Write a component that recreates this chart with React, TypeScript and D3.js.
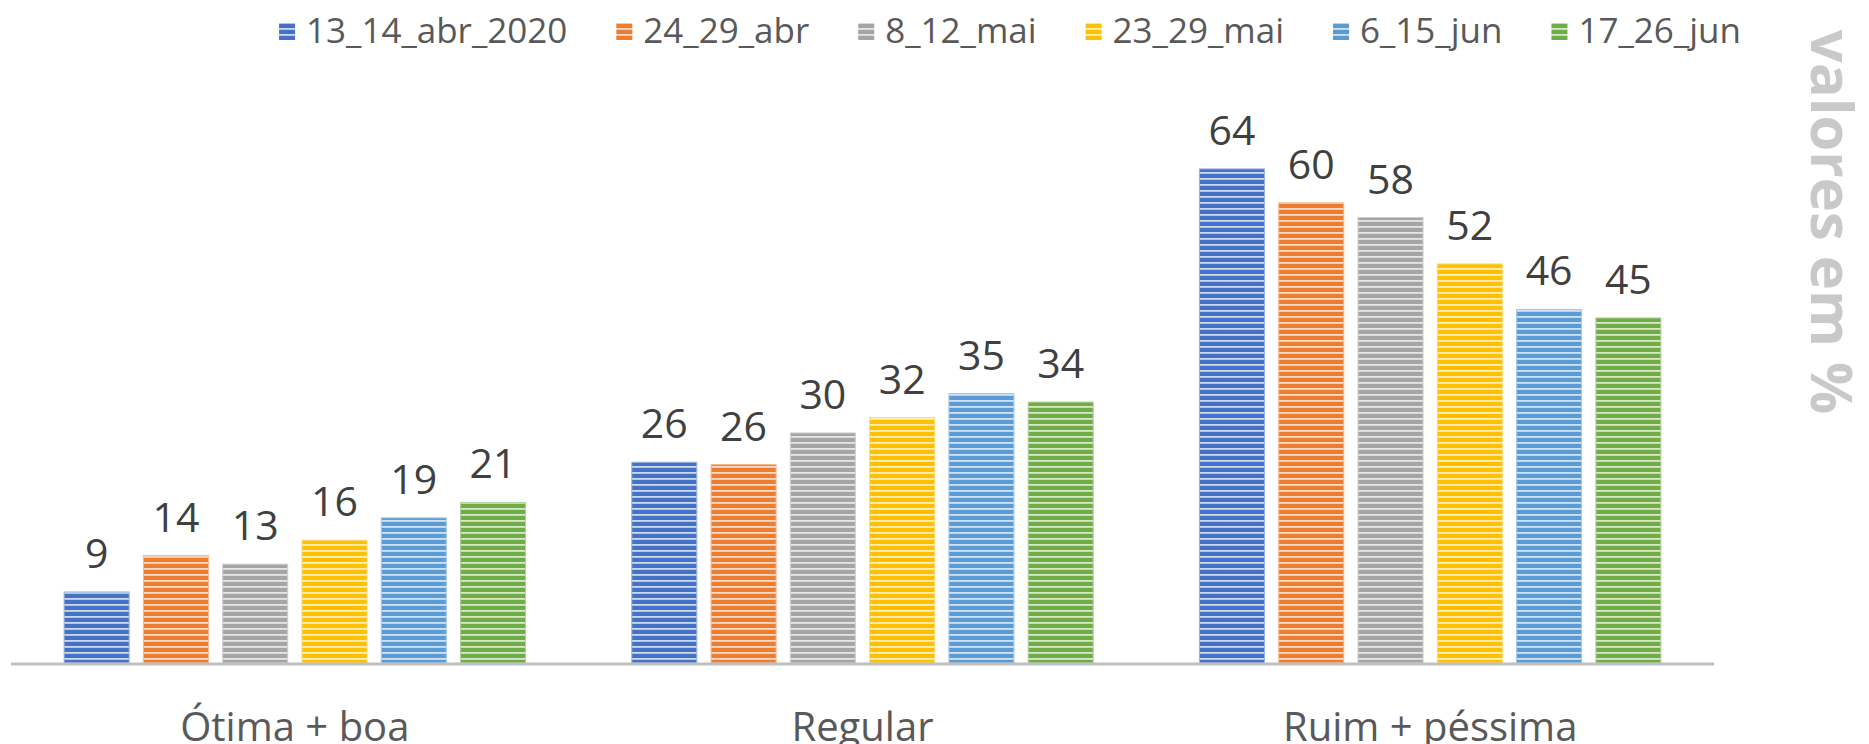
import * as d3 from "d3"
import React, { useEffect, useRef } from "react"

const categories = ["Ótima + boa", "Regular", "Ruim + péssima"]
const seriesNames = ["13_14_abr_2020", "24_29_abr", "8_12_mai", "23_29_mai", "6_15_jun", "17_26_jun"]
const seriesColors = ["#4472c4", "#ed7d31", "#a5a5a5", "#ffc000", "#5b9bd5", "#70ad47"]
// values per category, one per series
const otimaBoa = [9.2, 13.9, 12.8, 15.9, 18.8, 20.8]
const regular = [26, 25.7, 29.8, 31.8, 34.9, 33.8]
const ruimPessima = [64, 59.6, 57.7, 51.7, 45.8, 44.7]
const values = [otimaBoa, regular, ruimPessima]
const yLabel = "valores em %"

const W = 1869
const H = 744

export default function App() {
  const ref = useRef<SVGSVGElement>(null)

  useEffect(() => {
    const svg = d3.select(ref.current)
    svg.selectAll("*").remove()

    const font = "'Open Sans', sans-serif"
    const x0 = d3.scaleBand().domain(categories).range([11, 1714]).paddingInner(0).paddingOuter(0)
    const x1 = d3.scaleBand().domain(seriesNames).range([0, x0.bandwidth()]).paddingInner(0.18).paddingOuter(0.67)
    const y = d3.scaleLinear().domain([0, 70]).range([663, 122.6])

    // striped fills
    const defs = svg.append("defs")
    seriesColors.forEach((c, i) => {
      const p = defs.append("pattern")
        .attr("id", "stripe" + i)
        .attr("patternUnits", "userSpaceOnUse")
        .attr("width", 10)
        .attr("height", 6)
      p.append("rect").attr("width", 10).attr("height", 6).attr("fill", c)
      p.append("rect").attr("y", 4).attr("width", 10).attr("height", 1.8)
        .attr("fill", d3.interpolateRgb(c, "#ffffff")(0.72))
    })

    const groups = svg.append("g")
      .selectAll("g")
      .data(values)
      .join("g")
        .attr("transform", (d, i) => "translate(" + x0(categories[i]) + ",0)")

    groups.selectAll("rect")
      .data(d => d)
      .join("rect")
        .attr("x", (d, i) => x1(seriesNames[i])!)
        .attr("y", d => y(d))
        .attr("width", x1.bandwidth())
        .attr("height", d => y(0) - y(d))
        .attr("fill", (d, i) => "url(#stripe" + i + ")")
        .attr("stroke", (d, i) => d3.interpolateRgb(seriesColors[i], "#ffffff")(0.45))
        .attr("stroke-width", 1)

    groups.selectAll("text")
      .data(d => d)
      .join("text")
        .attr("x", (d, i) => x1(seriesNames[i])! + x1.bandwidth() / 2)
        .attr("y", d => y(d) - 24)
        .attr("text-anchor", "middle")
        .attr("font-family", font)
        .attr("font-size", 41)
        .attr("fill", "#404040")
        .text(d => d3.format(".0f")(d))

    // axis line
    svg.append("line")
      .attr("x1", 11).attr("x2", 1714)
      .attr("y1", 664).attr("y2", 664)
      .attr("stroke", "#bfbfbf")
      .attr("stroke-width", 3)

    // category labels
    svg.append("g")
      .selectAll("text")
      .data(categories)
      .join("text")
        .attr("x", d => x0(d)! + x0.bandwidth() / 2)
        .attr("y", 741)
        .attr("text-anchor", "middle")
        .attr("font-family", font)
        .attr("font-size", 40)
        .attr("fill", "#595959")
        .text(d => d)

    // legend
    const legend = svg.append("g")
    const items = legend.selectAll("g")
      .data(seriesNames)
      .join("g")
    items.append("rect")
      .attr("width", 16).attr("height", 17)
      .attr("y", 23)
      .attr("fill", (d, i) => "url(#stripe" + i + ")")
    items.append("text")
      .attr("x", 27)
      .attr("y", 43)
      .attr("font-family", font)
      .attr("font-size", 35)
      .attr("fill", "#595959")
      .text(d => d)
    let pos = 0
    items.each(function () {
      const g = d3.select(this)
      g.attr("transform", "translate(" + pos + ",0)")
      const tw = (g.select("text").node() as SVGTextElement).getComputedTextLength()
      pos += 27 + tw + 49
    })
    const total = pos - 49
    legend.attr("transform", "translate(" + (1010 - total / 2) + ",0)")

    // right-side label
    svg.append("text")
      .attr("transform", "translate(1811,222) rotate(90)")
      .attr("text-anchor", "middle")
      .attr("font-family", font)
      .attr("font-weight", "bold")
      .attr("font-size", 58)
      .attr("fill", "#c9c9c9")
      .text(yLabel)
  }, [])

  return (
    <svg ref={ref} width={W} height={H}
      style={{ position: "absolute", left: 0, top: 0, background: "#ffffff" }} />
  )
}
